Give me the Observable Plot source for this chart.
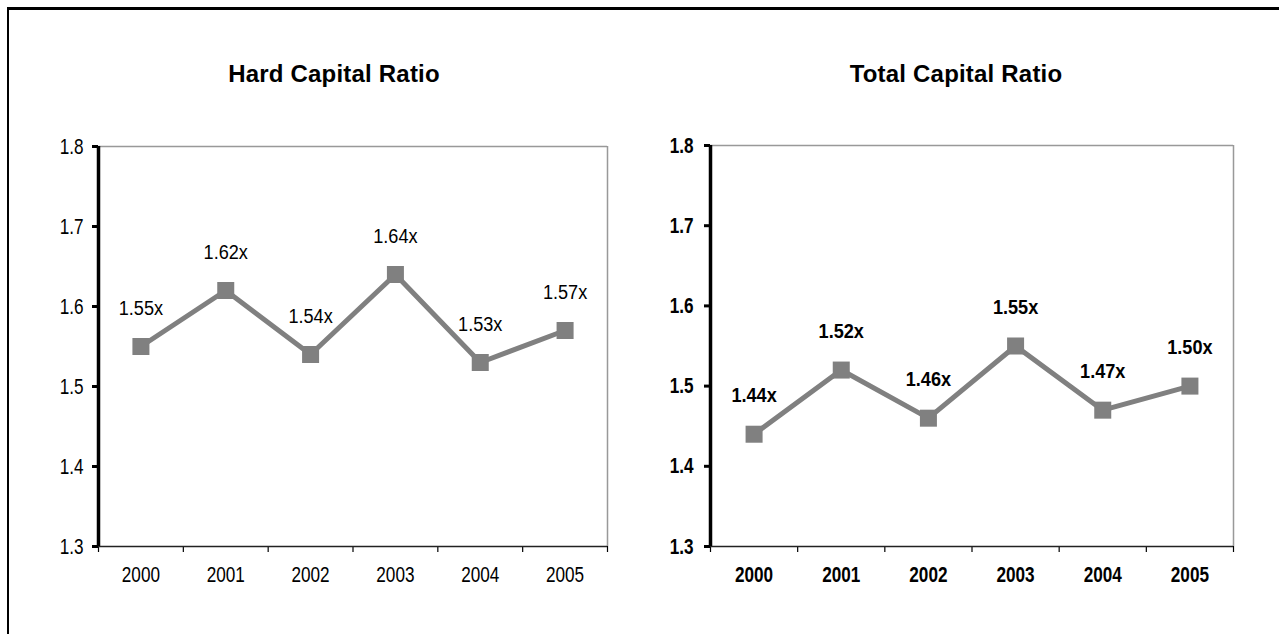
<!DOCTYPE html>
<html>
<head>
<meta charset="utf-8">
<script src="https://cdn.jsdelivr.net/npm/d3@7"></script>
<script src="https://cdn.jsdelivr.net/npm/@observablehq/plot@0.6"></script>
<style>
  html, body { margin: 0; padding: 0; background: #fff; }
  #page { position: relative; width: 1279px; height: 634px; overflow: hidden;
          font-family: "Liberation Sans", Arial, sans-serif; }
  #frame { position: absolute; left: 7px; top: 7px; right: -10px; bottom: -10px;
           border-top: 3px solid #000; border-left: 2px solid #000; }
  .title { position: absolute; width: 400px; text-align: center; font-weight: bold;
           font-size: 24px; line-height: 24px; color: #000; letter-spacing: 0.2px; }
  .panel { position: absolute; top: 0; }
</style>
</head>
<body>
<div id="page">
  <div id="frame"></div>
  <div class="title" style="left:134px; top:62px;">Hard Capital Ratio</div>
  <div class="title" style="left:756px; top:62px;">Total Capital Ratio</div>
  <div class="panel" id="p1" style="left:0px;"></div>
  <div class="panel" id="p2" style="left:640px;"></div>
</div>
<script>
// Year categories and the two ratio series
const years = [2000, 2001, 2002, 2003, 2004, 2005];
const hardCapitalRatio = [1.55, 1.62, 1.54, 1.64, 1.53, 1.57];
const totalCapitalRatio = [1.44, 1.52, 1.46, 1.55, 1.47, 1.50];
const yTicks = [1.3, 1.4, 1.5, 1.6, 1.7, 1.8];

const font = '"Liberation Sans", Arial, sans-serif';
const grey = "#808080";
const ratioLabel = v => d3.format(".2f")(v) + "x";

// Narrow the glyphs horizontally (about each text's own anchor) for a condensed face
function condense(svg) {
  svg.querySelectorAll("text").forEach(t => {
    const s = t.textContent.trim().endsWith("x") ? 0.93 : 0.78;
    let tr = t.getAttribute("transform");
    if (!tr) {
      const x = +t.getAttribute("x") || 0, y = +t.getAttribute("y") || 0;
      t.removeAttribute("x"); t.removeAttribute("y");
      tr = `translate(${x},${y})`;
    }
    t.setAttribute("transform", `${tr} scale(${s},1)`);
  });
  return svg;
}

function ratioPanel(values, {bold, width, marginLeft, marginRight, marginTop, yPad}) {
  const rows = years.map((year, i) => ({year, value: values[i]}));
  // category boundaries carry the x tick marks
  const bounds = years.map(y => y - 0.5).concat([years[years.length - 1] + 0.5]);
  const x0 = bounds[0], x1 = bounds[bounds.length - 1];
  const y0 = yTicks[0], y1 = yTicks[yTicks.length - 1];
  const weight = bold ? "bold" : "normal";
  return condense(Plot.plot({
    width, height: 634,
    marginTop, marginBottom: 88, marginLeft, marginRight,
    style: {fontFamily: font, fontSize: "22px", fontWeight: weight, color: "#000", background: "transparent"},
    x: {type: "linear", domain: [x0, x1], label: null},
    y: {type: "linear", domain: [y0, y1], label: null},
    marks: [
      // plot-area frame: grey top and right, black bottom and left axis lines
      Plot.ruleY([y1], {stroke: "#999", strokeWidth: 1.5}),
      Plot.ruleX([x1], {stroke: "#999", strokeWidth: 1.5}),
      Plot.axisX({ticks: bounds, tickFormat: () => "", tickSize: 6, stroke: "#000", strokeWidth: 1.2, label: null}),
      Plot.axisX({ticks: years, tickFormat: d3.format("d"), tickSize: 0, tickPadding: 20, fontSize: 22, label: null}),
      Plot.axisY({ticks: yTicks, tickFormat: d3.format(".1f"), tickSize: 6, tickPadding: yPad, strokeWidth: 3, fontSize: 22, label: null}),
      Plot.ruleY([y0], {stroke: "#222", strokeWidth: 1.6}),
      Plot.ruleX([x0], {stroke: "#000", strokeWidth: 3.5}),
      // series line, square markers and value labels
      Plot.line(rows, {x: "year", y: "value", stroke: grey, strokeWidth: 5}),
      Plot.dot(rows, {x: "year", y: "value", symbol: "square", r: 9.6, fill: grey, stroke: null}),
      Plot.text(rows, {x: "year", y: "value", text: d => ratioLabel(d.value), dy: -38,
                       fontSize: 19.5, fontWeight: weight, fill: "#000"})
    ]
  }));
}

document.getElementById("p1").appendChild(
  ratioPanel(hardCapitalRatio, {bold: false, width: 640, marginLeft: 98, marginRight: 33, marginTop: 146, yPad: 9}));
document.getElementById("p2").appendChild(
  ratioPanel(totalCapitalRatio, {bold: true, width: 639, marginLeft: 70, marginRight: 46, marginTop: 145, yPad: 11}));
</script>
</body>
</html>
